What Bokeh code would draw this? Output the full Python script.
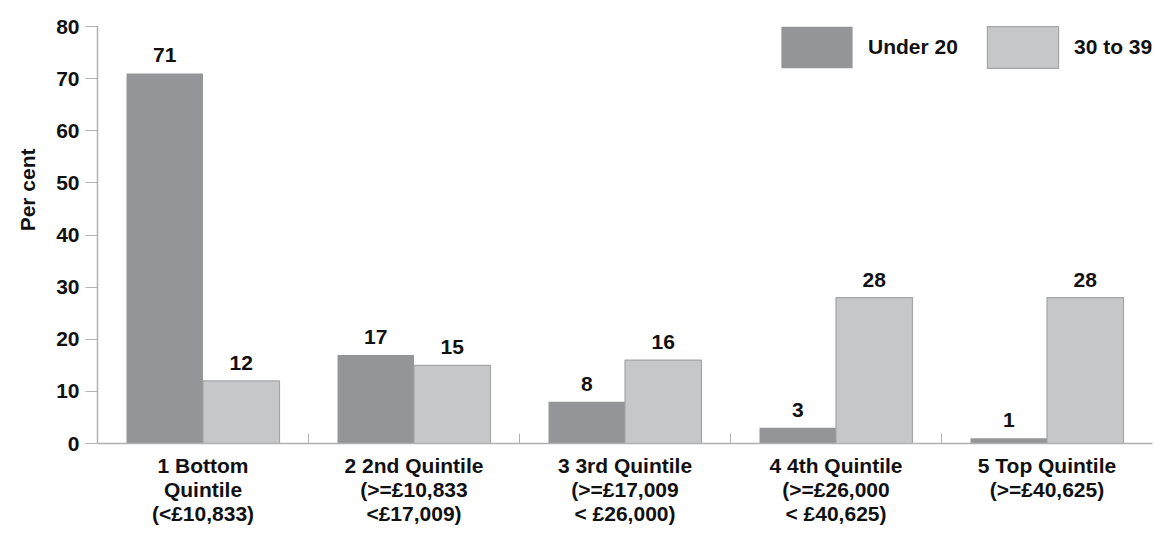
from bokeh.plotting import figure
from bokeh.models import (Range1d, FixedTicker, Legend, LegendItem, ColumnDataSource,
                          Title)
from bokeh.core.properties import value
from bokeh.embed import file_html
from bokeh.resources import INLINE

# Income quintiles and share of each age group falling in them (per cent)
quintiles = [
    "1 Bottom\nQuintile\n(<£10,833)",
    "2 2nd Quintile\n(>=£10,833\n<£17,009)",
    "3 3rd Quintile\n(>=£17,009\n< £26,000)",
    "4 4th Quintile\n(>=£26,000\n< £40,625)",
    "5 Top Quintile\n(>=£40,625)",
]
under_20 = [71, 17, 8, 3, 1]
age_30_39 = [12, 15, 16, 28, 28]
y_ticks = [0, 10, 20, 30, 40, 50, 60, 70, 80]

FONT = "Liberation Sans"
FS = "21px"
DARK = "#939598"
LIGHT = "#c6c7c9"
LIGHT_EDGE = "#a4a5a7"
AXIS = "#b1b1b1"
INK = "#111111"
BAR_W = 0.3625

centers = [i + 0.5 for i in range(len(quintiles))]

p = figure(width=1154, height=533, output_backend="svg", toolbar_location=None,
           x_range=Range1d(0, 5), y_range=Range1d(0, 80),
           min_border_left=97, min_border_right=2, min_border_top=26,
           min_border_bottom=90)
p.outline_line_color = None
p.xgrid.visible = False
p.ygrid.visible = False
p.background_fill_color = "white"
p.border_fill_color = "white"

src_a = ColumnDataSource(dict(x=[c - BAR_W / 2 for c in centers], top=under_20,
                              lbl=[str(v) for v in under_20]))
src_b = ColumnDataSource(dict(x=[c + BAR_W / 2 for c in centers], top=age_30_39,
                              lbl=[str(v) for v in age_30_39]))

r_a = p.vbar(x="x", top="top", bottom=0, width=BAR_W, source=src_a,
             fill_color=DARK, line_color=None)
r_b = p.vbar(x="x", top="top", bottom=0, width=BAR_W, source=src_b,
             fill_color=LIGHT, line_color=LIGHT_EDGE, line_width=1.2)

for src in (src_a, src_b):
    p.text(x="x", y="top", text="lbl", source=src, text_align="center",
           text_baseline="alphabetic", y_offset=-18,
           text_font=value(FONT), text_font_style="bold",
           text_font_size=FS, text_color=INK)

# x axis: category names centred, small separators between groups
xa = p.xaxis[0]
xa.ticker = FixedTicker(ticks=centers, minor_ticks=[1, 2, 3, 4])
xa.major_label_overrides = {c: q for c, q in zip(centers, quintiles)}
xa.major_tick_in = 0
xa.major_tick_out = 0
xa.minor_tick_in = 10
xa.minor_tick_out = 0
xa.minor_tick_line_color = AXIS
xa.axis_line_color = AXIS
xa.axis_line_width = 1.5
xa.major_label_standoff = 10
xa.major_label_text_font = FONT
xa.major_label_text_font_style = "bold"
xa.major_label_text_font_size = FS
xa.major_label_text_color = INK
xa.major_label_text_line_height = 1.05

ya = p.yaxis[0]
ya.ticker = FixedTicker(ticks=y_ticks, minor_ticks=[])
ya.major_tick_in = 0
ya.major_tick_out = 12
ya.major_tick_line_color = AXIS
ya.axis_line_color = AXIS
ya.axis_line_width = 1.5
ya.major_label_standoff = 6
ya.major_label_text_font = FONT
ya.major_label_text_font_style = "bold"
ya.major_label_text_font_size = FS
ya.major_label_text_color = INK

# vertical axis title, sitting in the upper half of the axis
p.add_layout(Title(text="Per cent", align="right", offset=122,
                   vertical_align="middle", standoff=27,
                   text_font=FONT, text_font_style="bold",
                   text_font_size=FS, text_color=INK), "left")

legend = Legend(items=[LegendItem(label="Under 20", renderers=[r_a]),
                       LegendItem(label="30 to 39", renderers=[r_b])],
                orientation="horizontal", location=(675, 370),
                glyph_width=89, glyph_height=52, label_standoff=7,
                label_width=100, spacing=10, padding=0, margin=0,
                border_line_color=None, background_fill_alpha=0,
                label_text_font=FONT, label_text_font_style="bold",
                label_text_font_size=FS, label_text_color=INK)
p.add_layout(legend)

open("out.html", "w").write(file_html(p, INLINE))
